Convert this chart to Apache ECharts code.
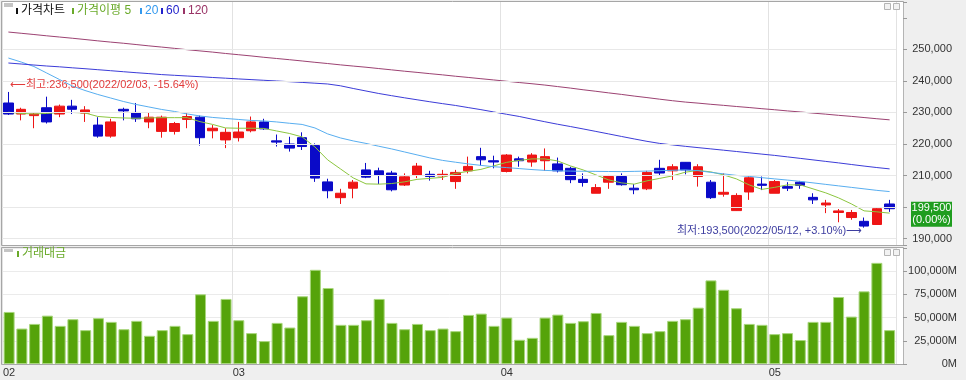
<!DOCTYPE html>
<html><head><meta charset="utf-8">
<script src="https://cdn.jsdelivr.net/npm/echarts/dist/echarts.min.js"></script>
<style>html,body{margin:0;padding:0;background:#efefef}#c{width:966px;height:380px}</style>
</head><body><div id="c"></div>
<script>
const dates = ['2022/02/03','2022/02/04','2022/02/07','2022/02/08','2022/02/09','2022/02/10','2022/02/11','2022/02/14','2022/02/15','2022/02/16','2022/02/17','2022/02/18','2022/02/21','2022/02/22','2022/02/23','2022/02/24','2022/02/25','2022/02/28',
'2022/03/02','2022/03/03','2022/03/04','2022/03/07','2022/03/08','2022/03/10','2022/03/11','2022/03/14','2022/03/15','2022/03/16','2022/03/17','2022/03/18','2022/03/21','2022/03/22','2022/03/23','2022/03/24','2022/03/25','2022/03/28','2022/03/29','2022/03/30','2022/03/31',
'2022/04/01','2022/04/04','2022/04/05','2022/04/06','2022/04/07','2022/04/08','2022/04/11','2022/04/12','2022/04/13','2022/04/14','2022/04/15','2022/04/18','2022/04/19','2022/04/20','2022/04/21','2022/04/22','2022/04/25','2022/04/26','2022/04/27','2022/04/28','2022/04/29',
'2022/05/02','2022/05/03','2022/05/04','2022/05/06','2022/05/09','2022/05/10','2022/05/11','2022/05/12','2022/05/13','2022/05/16'];

const opens = [233000,229500,229000,231500,229500,232000,229800,226000,222500,231000,
230000,227000,224000,224000,227800,228500,224200,221300,222000,224200,
227000,221000,220000,222000,219500,208000,203000,206000,211800,211500,
210800,207000,210200,210400,209900,208100,211500,216000,214700,211300,
215300,214300,214700,213700,212300,208800,204400,207900,209700,206000,
205800,212300,211500,214200,209700,207900,204100,198900,204800,207300,
204400,206500,207900,203100,200700,198300,196700,195500,194500,201000];
const closes = [229500,231000,229500,227000,232000,231000,230800,222500,227000,230500,
228000,228500,228500,226500,228700,222000,225000,223700,223800,227000,
224800,220600,218700,219200,209200,205200,204400,207900,209500,210200,
205500,209600,213000,209700,210400,211000,212900,215000,214300,216500,
214700,216500,216000,211500,208700,207800,206200,209700,207100,205500,
211000,210800,212800,211800,212800,203000,204700,203700,209300,206900,
208100,206000,206900,202300,201300,198800,198300,194000,199500,199500];
const lows = [229200,227500,225000,226500,228500,229500,227000,222000,222000,227500,
227000,225000,222000,223000,225000,219500,221800,218700,220800,223700,
224500,219200,217600,218100,208000,202800,201000,202800,209200,207300,
205000,206700,209200,208400,208600,205800,210700,213200,212300,211000,
212800,212800,211500,211000,207600,206500,204400,205800,206800,204100,
205400,210000,208600,210400,206500,202600,203300,198800,202300,205400,
204400,205100,205800,201000,198100,195200,196000,193500,194400,198500];
const highs = [236500,231500,230000,235000,232500,234000,232000,228500,228000,231500,
233000,230000,229000,227000,229800,229000,226000,225000,227000,228700,
228000,223000,222300,223700,220200,209000,205800,208600,214000,212500,
211500,210700,214000,211500,211800,211800,216000,218800,216300,216800,
216000,217100,218600,215700,212800,210700,207300,210200,210700,207300,
211500,215000,213600,214300,213600,208600,210700,204400,210000,209700,
208600,207900,208300,204400,202300,199400,199100,196700,199700,202300];

const ma5 = [230060,229680,229530,229680,230000,230000,229840,228730,228420,228260,
228160,228260,228350,228350,228350,227090,226200,225090,225000,225000,
224940,224140,223350,222250,219080,214970,212120,209270,207370,207280,
207470,208000,208800,209110,209430,210690,211330,211960,213070,214180,
214810,215280,215280,214650,213070,211800,210220,208640,207690,207280,
208320,209110,209900,211070,211640,211170,210220,208950,207050,205630,
206260,207050,207050,205790,204520,202940,201040,198820,198510,198100];
const ma20 = [247250,245980,244560,242500,240440,238390,236960,235700,234590,233480,
232530,231740,230950,230320,229530,228890,228420,228100,227790,227470,
227310,227000,226580,226200,225090,223200,221930,220980,220190,219300,
218450,217500,216550,215600,214810,214240,213700,213230,212810,212530,
212210,211900,211640,211490,211420,211360,211330,211290,211260,211330,
211420,211550,211670,211800,211550,211010,210540,210060,209740,209330,
208950,208570,208160,207690,207210,206740,206260,205790,205310,204930];
const ma60 = [245670,245350,245030,244720,244460,244150,243860,243550,243230,242910,
242600,242310,242000,241770,241550,241330,241080,240860,240630,240410,
240190,239970,239750,239520,239270,239020,238450,237600,236800,236010,
235320,234650,234020,233390,232790,232220,231550,230890,230160,229430,
228730,227880,227060,226270,225540,224780,223990,223200,222400,221610,
220850,220190,219710,219270,218860,218450,218040,217630,217210,216800,
216390,215920,215450,214970,214490,214020,213510,213010,212540,212120];
const ma120 = [255480,255090,254700,254290,253900,253520,253110,252690,252300,251930,
251520,251100,250720,250310,249880,249500,249120,248690,248300,247910,
247480,247100,246720,246310,245890,245500,245080,244700,244330,243910,
243500,243080,242700,242290,241910,241480,241100,240690,240300,239890,
239480,239100,238680,238200,237720,237190,236710,236200,235720,235190,
234710,234200,233720,233290,232960,232580,232250,231890,231560,231190,
230860,230490,230160,229790,229460,229090,228760,228390,228010,227660];

const tradingValue = [56100,38200,43200,52100,41100,48300,36500,49400,45400,37500,
46500,30400,36500,41100,32200,75100,46500,70100,47200,33300,
24700,44300,39300,73000,101500,81900,42200,42200,47200,70100,
44300,37500,43200,36500,38200,35400,52900,54300,41100,50000,
26100,28200,50000,53200,44300,46100,55000,31100,45400,41100,
33300,35400,46500,48300,60700,90100,80000,60100,43200,42200,
32200,33300,25800,45400,45400,72200,51100,78300,109000,36500];

const priceTicks = [190000,200000,210000,220000,230000,240000,250000];
const valueTicks = [0,25000,50000,75000,100000];

const FONT = "'Liberation Sans','Noto Sans CJK KR',sans-serif";
const KFONT = "'Liberation Sans','Noto Sans CJK KR',sans-serif";
const fmt = v => v.toLocaleString('en-US');
const monthStart = i => i === 0 || (dates[i] && dates[i-1] && dates[i].slice(5,7) !== dates[i-1].slice(5,7));

const candle = opens.map((o, i) => [o, closes[i], lows[i], highs[i]]);
const UP = '#ee1515', DOWN = '#0a0ac8';

const chart = echarts.init(document.getElementById('c'));
const vSplit = {show: true, interval: (i) => monthStart(i), lineStyle: {color: '#e2e2e2', width: 1}};
const maLine = (name, data, color) => ({
  name, type: 'line', data, xAxisIndex: 0, yAxisIndex: 0, symbol: 'none', showSymbol: false,
  smooth: false, silent: true, z: 4, lineStyle: {color, width: 1}
});

chart.setOption({
  animation: false,
  backgroundColor: '#efefef',
  grid: [
    {left: 2, right: 70, top: 2, height: 243},
    {left: 2, right: 70, top: 248, height: 116}
  ],
  xAxis: [
    {type: 'category', gridIndex: 0, data: dates, boundaryGap: true,
     axisLine: {show: false}, axisTick: {show: false}, axisLabel: {show: false}, splitLine: vSplit},
    {type: 'category', gridIndex: 1, data: dates, boundaryGap: true,
     axisLine: {show: true, lineStyle: {color: '#a8a8a8'}}, axisTick: {show: false},
     axisLabel: {interval: (i) => monthStart(i), formatter: v => v.slice(5, 7), color: '#333',
                 fontSize: 11, fontFamily: FONT, margin: 3},
     splitLine: vSplit}
  ],
  yAxis: [
    {type: 'value', gridIndex: 0, position: 'right', offset: 7, min: 188000, max: 265000, splitNumber: 8,
     axisLine: {show: true, lineStyle: {color: '#b4b4b4'}},
     axisTick: {show: true, length: 4, lineStyle: {color: '#999'}},
     axisLabel: {align: 'right', margin: 49, color: '#333', fontSize: 11, fontFamily: FONT,
                 formatter: v => priceTicks.includes(v) ? fmt(v) : ''},
     splitLine: {show: false}},
    {type: 'value', gridIndex: 1, position: 'right', offset: 7, min: 0, max: 125000, interval: 25000,
     axisLine: {show: true, lineStyle: {color: '#b4b4b4'}},
     axisTick: {show: true, length: 4, lineStyle: {color: '#999'}},
     axisLabel: {align: 'right', margin: 54, color: '#333', fontSize: 11, fontFamily: FONT,
                 formatter: v => valueTicks.includes(v) ? fmt(v) + 'M' : ''},
     splitLine: {show: true, lineStyle: {color: '#ebebeb', width: 1}}}
  ],
  series: [
    {name: 'grid', type: 'line', xAxisIndex: 0, yAxisIndex: 0, data: closes.map(() => null), z: 1, silent: true,
     symbol: 'none',
     markLine: {silent: true, symbol: ['none', 'none'], animation: false, label: {show: false},
                lineStyle: {color: '#e8e8e8', type: 'solid', width: 1},
                data: priceTicks.map(v => ({yAxis: v}))}},
    {name: '가격차트', type: 'candlestick', xAxisIndex: 0, yAxisIndex: 0, data: candle, barWidth: 10, z: 3,
     itemStyle: {color: UP, color0: DOWN, borderColor: UP, borderColor0: DOWN, borderWidth: 1}},
    maLine('5', ma5, '#8cc63f'),
    maLine('20', ma20, '#58aef0'),
    maLine('60', ma60, '#3c3cd8'),
    maLine('120', ma120, '#9c4272'),
    {name: '거래대금', type: 'bar', xAxisIndex: 1, yAxisIndex: 1, data: tradingValue, barWidth: 11,
     itemStyle: {color: '#55a30a', borderColor: '#a8d67c', borderWidth: 1}}
  ]
});

// annotations positioned through the chart's own scales
const maxIdx = highs.indexOf(Math.max(...highs));
const minIdx = lows.indexOf(Math.min(...lows));
const last = closes[closes.length - 1], prev = closes[closes.length - 2];
const [hx, hy] = chart.convertToPixel({gridIndex: 0}, [maxIdx, highs[maxIdx]]);
const [lx, ly] = chart.convertToPixel({gridIndex: 0}, [minIdx, lows[minIdx]]);
const cy = chart.convertToPixel({gridIndex: 0}, [0, last])[1];
const pct = (a, b) => { const p = (a / b - 1) * 100; return (p > 0 ? '+' : '') + p.toFixed(2); };
const highText = '⟵최고:' + fmt(highs[maxIdx]) + '(' + dates[maxIdx] + ', ' + pct(last, highs[maxIdx]) + '%)';
const lowText = '최저:' + fmt(lows[minIdx]) + '(' + dates[minIdx] + ', ' + pct(last, lows[minIdx]) + '%)⟶';
const chg = ((last / prev - 1) * 100).toFixed(2);

const legendItem = (x, y, color, text) => ([
  {type: 'rect', shape: {x: x, y: y - 3, width: 2, height: 6}, style: {fill: color}, z: 20, silent: true},
  {type: 'text', x: x + 5, y: y, style: {text, fill: color, font: '12px ' + KFONT, verticalAlign: 'middle', align: 'left'}, z: 20, silent: true}
]);

chart.setOption({
  graphic: [
    {type: 'rect', shape: {x: 1.5, y: 1.5, width: 902, height: 244}, style: {fill: '#ffffff', stroke: '#a6a6a6', lineWidth: 1}, z: -10, silent: true},
    {type: 'rect', shape: {x: 1.5, y: 247.5, width: 902, height: 117}, style: {fill: '#ffffff', stroke: '#a6a6a6', lineWidth: 1}, z: -10, silent: true},
    {type: 'rect', shape: {x: 4, y: 3, width: 9, height: 4}, style: {fill: '#c4c4c4'}, z: 20, silent: true},
    {type: 'rect', shape: {x: 4, y: 249, width: 9, height: 3}, style: {fill: '#c4c4c4'}, z: 20, silent: true},
    {type: 'rect', shape: {x: 884.5, y: 3.5, width: 6, height: 6}, style: {fill: '#f2f2f2', stroke: '#b5b5b5'}, z: 20, silent: true},
    {type: 'rect', shape: {x: 893.5, y: 3.5, width: 6, height: 6}, style: {fill: '#f2f2f2', stroke: '#b5b5b5'}, z: 20, silent: true},
    {type: 'rect', shape: {x: 884.5, y: 249.5, width: 6, height: 6}, style: {fill: '#f2f2f2', stroke: '#b5b5b5'}, z: 20, silent: true},
    {type: 'rect', shape: {x: 893.5, y: 249.5, width: 6, height: 6}, style: {fill: '#f2f2f2', stroke: '#b5b5b5'}, z: 20, silent: true},
    ...legendItem(16, 11, '#111111', '가격차트'),
    ...legendItem(72, 11, '#6aaa2a', '가격이평 5'),
    ...legendItem(140, 11, '#3399ee', '20'),
    ...legendItem(161, 11, '#2222cc', '60'),
    ...legendItem(183, 11, '#993366', '120'),
    ...legendItem(17, 254, '#6aaa2a', '거래대금'),
    {type: 'text', x: hx + 1.5, y: hy - 7, style: {text: highText, fill: '#e23b3b', font: '11px ' + KFONT, align: 'left', verticalAlign: 'middle'}, z: 20, silent: true},
    {type: 'text', x: lx - 2, y: ly + 3, style: {text: lowText, fill: '#3d3da0', font: '11px ' + KFONT, align: 'right', verticalAlign: 'middle'}, z: 20, silent: true},
    {type: 'rect', shape: {x: 911, y: cy - 7, width: 41, height: 25}, style: {fill: '#1f9d1f'}, z: 30, silent: true},
    {type: 'text', x: 931.5, y: cy + 5.5, style: {text: fmt(last) + '\n(' + chg + '%)', fill: '#ffffff', font: '11px ' + FONT, align: 'center', verticalAlign: 'middle', lineHeight: 12.5}, z: 31, silent: true}
  ]
});
</script>
</body></html>
